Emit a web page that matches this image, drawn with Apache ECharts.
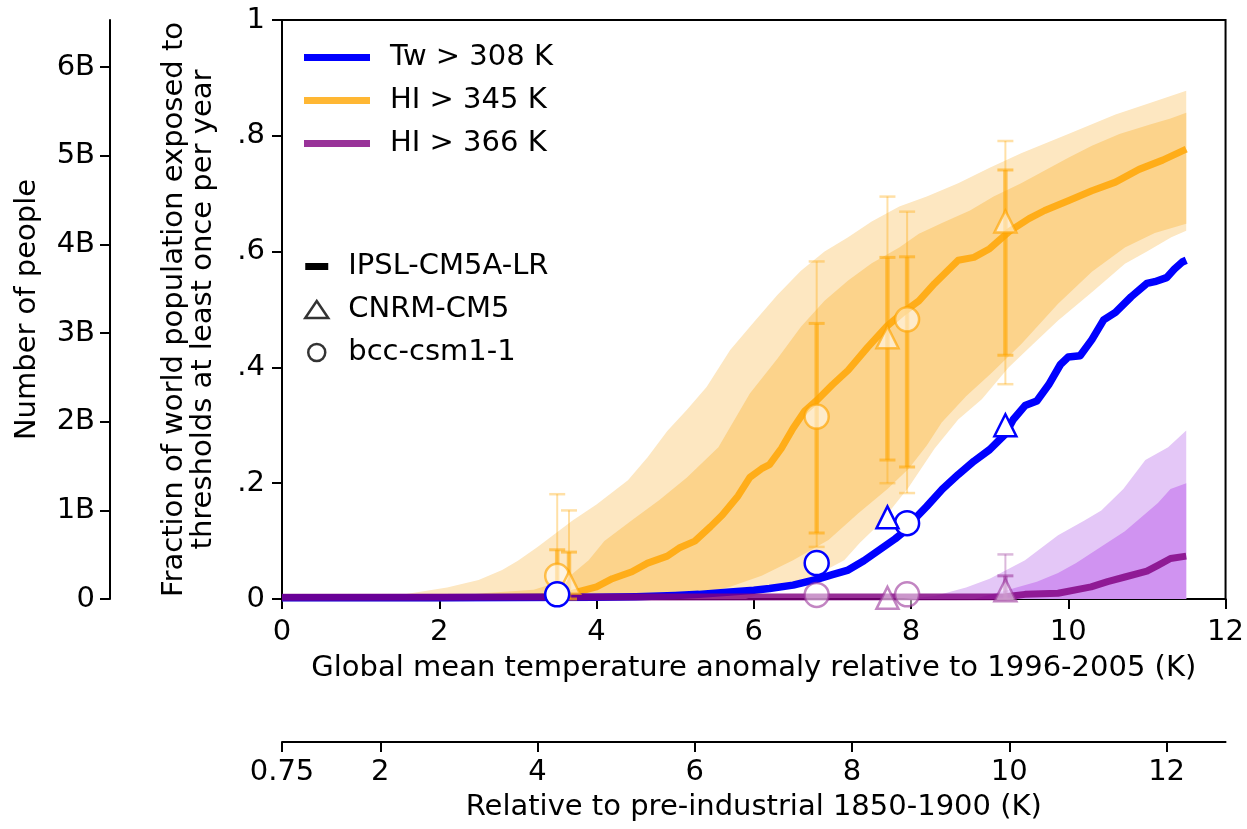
<!DOCTYPE html>
<html>
<head>
<meta charset="utf-8">
<script src="https://cdn.jsdelivr.net/npm/echarts@6/dist/echarts.min.js"></script>
<style>html,body{margin:0;padding:0;background:#fff}#c{width:1247px;height:829px}</style>
</head>
<body>
<div id="c"></div>
<script>
// ---------- tick labels ----------
const xTicks = [0, 2, 4, 6, 8, 10, 12];
const preIndTicks = [0.75, 2, 4, 6, 8, 10, 12];
const peopleTicks = [0, 1e9, 2e9, 3e9, 4e9, 5e9, 6e9];
const worldPop = 6.53e9;

// ---------- series names ----------
const thresholdNames = ['Tw > 308 K', 'HI > 345 K', 'HI > 366 K'];
const modelNames = ['IPSL-CM5A-LR', 'CNRM-CM5', 'bcc-csm1-1'];

// ---------- IPSL-CM5A-LR median lines ----------
const twLine = [[0,0.002],[2,0.002],[4,0.003],[4.5,0.004],[5.0,0.006],[5.3,0.008],[5.7,0.012],[6.0,0.015],[6.2,0.018],[6.5,0.024],[6.8,0.034],[7.0,0.042],[7.2,0.05],[7.4,0.066],[7.6,0.085],[7.8,0.104],[7.9,0.115],[8.0,0.132],[8.2,0.16],[8.4,0.19],[8.6,0.215],[8.8,0.238],[9.0,0.258],[9.2,0.285],[9.3,0.31],[9.45,0.334],[9.6,0.342],[9.75,0.37],[9.9,0.405],[10.0,0.418],[10.15,0.42],[10.3,0.448],[10.45,0.482],[10.6,0.495],[10.8,0.522],[11.0,0.545],[11.1,0.548],[11.25,0.555],[11.35,0.57],[11.45,0.582],[11.5,0.585]];
const hi345Line = [[0,0.002],[2,0.002],[3,0.003],[3.5,0.004],[3.7,0.01],[4.0,0.021],[4.2,0.035],[4.45,0.047],[4.65,0.062],[4.9,0.074],[5.05,0.088],[5.25,0.1],[5.45,0.125],[5.6,0.145],[5.8,0.178],[5.95,0.21],[6.1,0.225],[6.2,0.232],[6.35,0.26],[6.5,0.295],[6.65,0.325],[6.8,0.343],[7.0,0.37],[7.2,0.395],[7.45,0.435],[7.7,0.472],[7.9,0.495],[8.1,0.515],[8.3,0.545],[8.6,0.585],[8.8,0.59],[9.0,0.605],[9.25,0.635],[9.5,0.657],[9.7,0.671],[10.0,0.688],[10.3,0.705],[10.6,0.72],[10.9,0.742],[11.2,0.758],[11.5,0.777]];
const hi366Line = [[0,0.003],[9.2,0.004],[9.45,0.008],[9.87,0.01],[10.29,0.021],[10.5,0.03],[10.72,0.038],[11.0,0.048],[11.14,0.058],[11.3,0.07],[11.5,0.074]];

// ---------- uncertainty bands ----------
const hi345OuterUpper = [[0,0],[1.0,0.003],[1.5,0.007],[2.1,0.02],[2.5,0.033],[2.8,0.05],[3.0,0.066],[3.25,0.09],[3.7,0.136],[4.0,0.163],[4.4,0.205],[4.65,0.245],[4.9,0.29],[5.15,0.327],[5.4,0.366],[5.7,0.43],[6.0,0.478],[6.3,0.525],[6.6,0.567],[6.9,0.6],[7.2,0.625],[7.5,0.652],[7.85,0.678],[8.2,0.695],[8.6,0.718],[9.0,0.745],[9.4,0.77],[10.0,0.803],[10.6,0.837],[11.0,0.855],[11.5,0.878]];
const hi345OuterLower = [[0,0],[5.9,0],[6.1,0.01],[6.45,0.022],[6.75,0.038],[7.15,0.067],[7.35,0.097],[7.6,0.13],[7.97,0.193],[8.3,0.26],[8.6,0.31],[8.9,0.345],[9.24,0.4],[9.55,0.44],[9.87,0.481],[10.3,0.53],[10.72,0.579],[11.0,0.6],[11.31,0.625],[11.5,0.636]];
const hi345InnerUpper = [[0,0],[2.0,0.002],[2.55,0.01],[3.2,0.016],[3.6,0.033],[3.9,0.067],[4.1,0.1],[4.45,0.136],[4.8,0.171],[5.15,0.21],[5.55,0.262],[5.95,0.355],[6.3,0.415],[6.6,0.47],[6.9,0.515],[7.2,0.55],[7.5,0.58],[7.85,0.607],[8.1,0.631],[8.4,0.65],[8.75,0.671],[9.05,0.695],[9.4,0.718],[9.7,0.74],[10.0,0.762],[10.3,0.783],[10.65,0.803],[11.05,0.82],[11.3,0.83],[11.5,0.84]];
const hi345InnerLower = [[0,0],[5.0,0],[5.3,0.008],[5.7,0.021],[6.1,0.04],[6.5,0.067],[6.95,0.102],[7.33,0.148],[7.7,0.19],[7.97,0.225],[8.2,0.265],[8.39,0.305],[8.7,0.35],[9.02,0.39],[9.4,0.44],[9.87,0.51],[10.3,0.565],[10.72,0.607],[11.1,0.632],[11.5,0.648]];
const hi366OuterUpper = [[0,0],[7.9,0],[8.3,0.005],[8.7,0.02],[9.0,0.035],[9.45,0.067],[9.87,0.11],[10.2,0.135],[10.42,0.153],[10.7,0.19],[10.98,0.24],[11.27,0.262],[11.5,0.291]];
const hi366InnerUpper = [[0,0],[8.8,0],[9.24,0.016],[9.6,0.03],[9.87,0.045],[10.1,0.062],[10.29,0.079],[10.72,0.117],[11.14,0.166],[11.3,0.19],[11.5,0.2]];
const hi366Lower = [[0,0],[11.5,0]];

// ---------- other models (markers): [x, y] ----------
const twCnrm = [[3.65,-0.008],[7.7,0.141],[9.2,0.30]];
const twBcc = [[3.5,0.008],[6.8,0.062],[7.95,0.131]];
const hi345Cnrm = [[3.65,0.028],[7.7,0.452],[9.2,0.652]];
const hi345Bcc = [[3.5,0.04],[6.8,0.315],[7.95,0.483]];
const hi366Cnrm = [[3.65,-0.008],[7.7,0.002],[9.2,0.015]];
const hi366Bcc = [[3.5,-0.003],[6.8,0.007],[7.95,0.008]];

// ---------- error bars: [x, low, high] ----------
const hi345BarsWide = [[3.5,0,0.181],[3.65,0,0.153],[6.8,0.09,0.583],[7.7,0.2,0.695],[7.95,0.183,0.669],[9.2,0.371,0.791]];
const hi345BarsNarrow = [[3.5,0,0.085],[3.65,0,0.081],[6.8,0.114,0.476],[7.7,0.24,0.59],[7.95,0.228,0.591],[9.2,0.421,0.741]];
const hi366BarsWide = [[9.2,0,0.077]];
const hi366BarsNarrow = [[9.2,0,0.04]];

// ---------- colours ----------
const BLUE = '#0000ff', ORANGE = 'rgba(255,165,0,0.82)', PURPLE = 'rgba(128,0,128,0.82)';
const FONT = 'DejaVu Sans';
const FS = 29;

function bandRender(upper, lower, fill) {
  return function (params, api) {
    const pts = upper.map(p => api.coord(p)).concat(lower.slice().reverse().map(p => api.coord(p)));
    return { type: 'polygon', shape: { points: pts }, style: { fill: fill } };
  };
}
function bandSeries(upper, lower, fill, z) {
  return { type: 'custom', silent: true, z: z, data: [[0, 0]], encode: { x: 0, y: 1 },
    renderItem: bandRender(upper, lower, fill) };
}
function barSeries(data, color, width, capWidth, z) {
  return { type: 'custom', silent: true, z: z, data: data, encode: { x: 0, y: [1, 2] },
    renderItem: function (params, api) {
      const x = api.value(0);
      const lo = api.coord([x, api.value(1)]);
      const hi = api.coord([x, api.value(2)]);
      const hw = 8;
      const st = { stroke: color, lineWidth: width };
      const cs = { stroke: color, lineWidth: capWidth };
      return { type: 'group', children: [
        { type: 'line', shape: { x1: lo[0], y1: lo[1], x2: hi[0], y2: hi[1] }, style: st },
        { type: 'line', shape: { x1: lo[0] - hw, y1: lo[1], x2: lo[0] + hw, y2: lo[1] }, style: cs },
        { type: 'line', shape: { x1: hi[0] - hw, y1: hi[1], x2: hi[0] + hw, y2: hi[1] }, style: cs }
      ] };
    } };
}
function lineSeries(name, data, color, width, z) {
  return { name: name, type: 'line', data: data, showSymbol: false, z: z, silent: true,
    lineStyle: { color: color, width: width, join: 'round' }, itemStyle: { color: color } };
}
function markerSeries(data, symbol, size, fill, border, bw, z) {
  return { type: 'scatter', data: data, symbol: symbol, symbolSize: size, z: z, silent: true,
    itemStyle: { color: fill, borderColor: border, borderWidth: bw, opacity: 1 } };
}

const chart = echarts.init(document.getElementById('c'), null, { renderer: 'canvas' });
const axisLineStyle = { color: '#000', width: 2 };
const labelStyle = { color: '#000', fontSize: FS, fontFamily: FONT };
const nameStyle = { color: '#000', fontSize: FS, fontFamily: FONT };

chart.setOption({
  animation: false,
  backgroundColor: '#fff',
  textStyle: { fontFamily: FONT },
  grid: { left: 282, right: 19, top: 20, bottom: 230, show: true, borderColor: '#000', borderWidth: 2, backgroundColor: 'transparent' },
  xAxis: [
    { type: 'value', min: 0, max: 12, interval: 2, position: 'bottom',
      axisLine: { onZero: false, lineStyle: axisLineStyle }, axisTick: { length: 10, lineStyle: axisLineStyle },
      axisLabel: Object.assign({ margin: 19 }, labelStyle), splitLine: { show: false },
      name: 'Global mean temperature anomaly relative to 1996-2005 (K)', nameLocation: 'middle', nameGap: 55, nameTextStyle: nameStyle },
    { type: 'value', min: 0.75, max: 12.75, position: 'bottom', offset: 143,
      axisLine: { show: true, onZero: false, lineStyle: axisLineStyle }, axisTick: { show: true, length: 10, lineStyle: axisLineStyle, customValues: preIndTicks },
      axisLabel: Object.assign({ margin: 16, customValues: preIndTicks, formatter: v => String(v) }, labelStyle), splitLine: { show: false },
      name: 'Relative to pre-industrial 1850-1900 (K)', nameLocation: 'middle', nameGap: 51, nameTextStyle: nameStyle }
  ],
  yAxis: [
    { type: 'value', min: 0, max: 1, interval: 0.2, position: 'left',
      axisLine: { show: true, onZero: false, lineStyle: axisLineStyle }, axisTick: { show: true, length: 10, lineStyle: axisLineStyle },
      axisLabel: Object.assign({ margin: 17, formatter: v => (v === 0 ? '0' : v === 1 ? '1' : v.toFixed(1).replace(/^0/, '')) }, labelStyle),
      splitLine: { show: false },
      name: 'Fraction of world population exposed to\nthresholds at least once per year', nameLocation: 'middle', nameRotate: 90, nameGap: 64,
      nameTextStyle: Object.assign({ lineHeight: 29, align: 'center' }, nameStyle) },
    { type: 'value', min: 0, max: worldPop, position: 'left', offset: 172,
      axisLine: { show: true, onZero: false, lineStyle: axisLineStyle }, axisTick: { show: true, length: 10, lineStyle: axisLineStyle, customValues: peopleTicks },
      axisLabel: Object.assign({ margin: 15, customValues: peopleTicks, formatter: v => (v === 0 ? '0' : Math.round(v / 1e9) + 'B') }, labelStyle),
      splitLine: { show: false },
      name: 'Number of people', nameLocation: 'middle', nameRotate: 90, nameGap: 68, nameTextStyle: nameStyle }
  ],
  legend: [
    { orient: 'vertical', left: 304, top: 43, padding: 0, itemWidth: 66, itemHeight: 7, itemGap: 14,
      selectedMode: false, textStyle: { fontSize: FS, lineHeight: 29, color: '#000', fontFamily: FONT, padding: [0, 0, 0, 15] },
      data: [
        { name: thresholdNames[0], icon: 'rect', itemStyle: { color: '#0000ff' } },
        { name: thresholdNames[1], icon: 'rect', itemStyle: { color: '#ffb733' } },
        { name: thresholdNames[2], icon: 'rect', itemStyle: { color: '#993399' } }
      ] },
    { orient: 'vertical', left: 304, top: 252, padding: 0, itemWidth: 23, itemHeight: 17, itemGap: 14,
      selectedMode: false, textStyle: { fontSize: FS, lineHeight: 29, color: '#000', fontFamily: FONT, padding: [0, 0, 0, 15] },
      data: [
        { name: modelNames[0], icon: 'path://M0,0h23v7h-23z', itemStyle: { color: '#000', borderWidth: 0 } },
        { name: modelNames[1], icon: 'triangle', itemStyle: { color: '#fff', borderColor: '#000', borderWidth: 2.5 } },
        { name: modelNames[2], icon: 'circle', itemStyle: { color: '#fff', borderColor: '#000', borderWidth: 2.5 } }
      ] }
  ],
  series: [
    bandSeries(hi345OuterUpper, hi345OuterLower, '#fde7c1', 1),
    bandSeries(hi345InnerUpper, hi345InnerLower, '#fcd38b', 2),
    bandSeries(hi366OuterUpper, hi366Lower, '#e4c7f7', 3),
    bandSeries(hi366InnerUpper, hi366Lower, '#d093f1', 4),
    lineSeries(thresholdNames[1], hi345Line, ORANGE, 7, 5),
    lineSeries(thresholdNames[0], twLine, BLUE, 7.5, 6),
    lineSeries(thresholdNames[2], hi366Line, PURPLE, 7, 7),
    barSeries(hi345BarsWide, 'rgba(255,165,0,0.35)', 2, 2.5, 8),
    barSeries(hi345BarsNarrow, 'rgba(255,165,0,0.55)', 4.5, 3, 9),
    barSeries(hi366BarsWide, 'rgba(153,51,153,0.35)', 2, 2.5, 8),
    barSeries(hi366BarsNarrow, 'rgba(153,51,153,0.55)', 4.5, 3, 9),
    markerSeries(hi345Bcc, 'circle', 24, 'rgba(255,255,255,0.55)', 'rgba(255,165,0,0.65)', 2.5, 10),
    markerSeries(hi345Cnrm, 'triangle', 22, 'rgba(255,255,255,0.55)', 'rgba(255,165,0,0.65)', 2.5, 10),
    markerSeries(twBcc, 'circle', 24, '#ffffff', BLUE, 2.5, 11),
    markerSeries(twCnrm, 'triangle', 22, '#ffffff', BLUE, 2.5, 11),
    markerSeries(hi366Bcc, 'circle', 24, 'rgba(255,255,255,0.5)', 'rgba(153,51,153,0.6)', 2.5, 12),
    markerSeries(hi366Cnrm, 'triangle', 22, 'rgba(255,255,255,0.5)', 'rgba(153,51,153,0.6)', 2.5, 12),
    { name: modelNames[0], type: 'line', data: [], itemStyle: { color: '#000' } },
    { name: modelNames[1], type: 'scatter', data: [], itemStyle: { color: '#000' } },
    { name: modelNames[2], type: 'scatter', data: [], itemStyle: { color: '#000' } }
  ]
});
</script>
</body>
</html>
